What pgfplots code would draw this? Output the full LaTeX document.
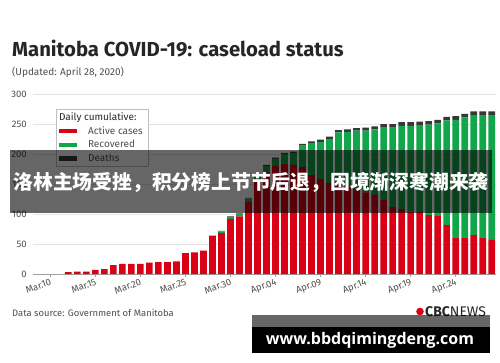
\documentclass[border=0pt]{standalone}
\usepackage{pgfplots}
\usepackage{pgfplotstable}
\pgfplotsset{compat=1.18}
\usepackage{fontspec}
\setmainfont{Fira Sans}
\newfontfamily\cjk{Noto Sans CJK SC}
\newfontfamily\wm{Open Sans}
\definecolor{cbcred}{RGB}{218,0,22}
\definecolor{cbcgreen}{RGB}{18,166,74}
\definecolor{deathc}{RGB}{55,55,55}
\definecolor{txtgrey}{RGB}{80,80,80}
\definecolor{gridc}{RGB}{228,228,228}

\pgfplotstableread{
i act rec dea
0 0 0 0
1 0 0 0
2 3 0 0
3 4 0 0
4 4 0 0
5 7 0 0
6 8 0 0
7 15 0 0
8 17 0 0
9 17 0 0
10 17 0 0
11 19 0 0
12 20 0 0
13 20 0 0
14 21 0 0
15 35 0 0
16 36 0 0
17 39 0 0
18 63 0 1
19 68 3 1
20 92 3 1
21 96 4 1
22 120 6 1
23 155 10 2
24 170 10 2
25 180 12 2
26 184 16 2
27 182 20 2
28 178 36 3
29 165 53 3
30 158 62 4
31 152 73 4
32 150 86 4
33 146 91 4
34 142 97 4
35 136 103 5
36 132 109 5
37 123 122 5
38 112 132 6
39 108 139 6
40 104 143 6
41 103 145 6
42 98 151 6
43 97 154 6
44 82 174 6
45 61 196 6
46 61 200 6
47 65 200 6
48 61 204 6
49 57 208 6
}\cases

\begin{document}
\begin{tikzpicture}[x=1pt,y=1pt]
\fill[white] (0,0) rectangle (500,362);
\node[anchor=base west, font=\fontsize{20.3}{21}\selectfont\bfseries, text=black!85, inner sep=0] at (12,305) {Manitoba COVID-19: caseload status};
\node[anchor=base west, font=\fontsize{10}{11}\selectfont, text=txtgrey, inner sep=0] at (12,286) {(Updated: April 28, 2020)};
\begin{axis}[
  at={(33.2pt,88pt)}, anchor=south west,
  scale only axis, width=463pt, height=180pt,
  xmin=-1.9, xmax=49.5, ymin=0, ymax=300,
  ybar stacked, bar width=0.74,
  axis x line*=bottom, axis y line*=left,
  axis line style={-},
  y axis line style={draw=none},
  x axis line style={draw=gray!75, line width=0.6pt},
  ytick={0,50,...,300},
  ymajorgrids, grid style={gridc, line width=0.6pt},
  ytick style={draw=none},
  xtick={0,5,...,45},
  xticklabels={Mar.10,Mar.15,Mar.20,Mar.25,Mar.30,Apr.04,Apr.09,Apr.14,Apr.19,Apr.24},
  xtick style={draw=gray!75, line width=0.5pt},
  major tick length=3pt, tick align=outside,
  /pgf/number format/assume math mode=true,
  yticklabel style={font=\fontsize{9.5}{10}\selectfont, text=txtgrey},
  xticklabel style={font=\fontsize{9.5}{10}\selectfont, text=txtgrey, rotate=20, anchor=north east, inner sep=1pt},
  legend style={at={(axis description cs:0.049,0.917)}, anchor=north west, draw=gray!50, fill=white,
    font=\fontsize{10}{12}\selectfont, text=txtgrey, inner xsep=3pt, inner ysep=1.5pt,
    row sep=0.6pt},
  legend cell align=left,
]
\addlegendimage{empty legend}
\addlegendentry{\hspace{-29pt}\textcolor{black!85}{Daily cumulative:}}
\addplot[fill=cbcred, draw=none, legend image code/.code={\fill[cbcred] (0pt,-2.3pt) rectangle (18pt,2.3pt); \path (27pt,0pt);}] table[x=i,y=act]{\cases};
\addlegendentry{Active cases}
\addplot[fill=cbcgreen, draw=none, legend image code/.code={\fill[cbcgreen] (0pt,-2.3pt) rectangle (18pt,2.3pt); \path (27pt,0pt);}] table[x=i,y=rec]{\cases};
\addlegendentry{Recovered}
\addplot[fill=deathc, draw=none, legend image code/.code={\fill[deathc] (0pt,-2.3pt) rectangle (18pt,2.3pt); \path (27pt,0pt);}] table[x=i,y=dea]{\cases};
\addlegendentry{Deaths}
\end{axis}
\fill[black, opacity=0.6] (10,149) rectangle (492,212);
\node[text=white, font=\cjk\bfseries\fontsize{19.8}{20}\selectfont, inner sep=0] at (251,180) {洛林主场受挫，积分榜上节节后退，困境渐深寒潮来袭};
\node[anchor=base west, font=\fontsize{9.4}{10}\selectfont, text=txtgrey, inner sep=0] at (12,46) {Data source: Government of Manitoba};
\fill[cbcred] (420,50.5) circle (3.8);
\node[anchor=base west, font=\fontsize{14}{15}\selectfont, text=black!85, inner sep=0] at (425,46) {\textbf{CBC}NEWS};
\fill[black, opacity=0.6] (252,35) rectangle (490,47);
\fill[black] (252,9) rectangle (490,35);
\node[text=white, font=\wm\bfseries\fontsize{16}{17}\selectfont, inner sep=0] at (370,22) {www.bbdqimingdeng.com};
\end{tikzpicture}
\end{document}
